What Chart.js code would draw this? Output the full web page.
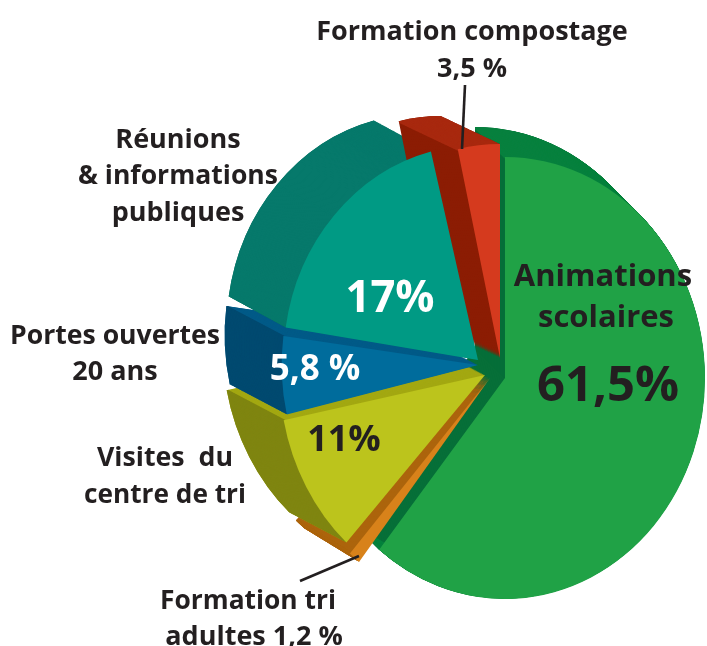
<!DOCTYPE html>
<html><head><meta charset="utf-8">
<style>html,body{margin:0;padding:0;background:#fff}canvas{display:block}</style>
<script src="https://cdn.jsdelivr.net/npm/chart.js@4"></script>
</head><body><canvas id="c" width="707" height="646"></canvas>
<script>
const categories = ["Animations scolaires","Formation tri adultes","Visites du centre de tri","Portes ouvertes 20 ans","Réunions & informations publiques","Formation compostage"];
const shares = [61.5, 1.2, 11, 5.8, 17, 3.5];

const faceColors = ["#20a246","#d8821a","#bcc41c","#006c9c","#009a84","#d53a1e"];
const sideColors = ["#066f38","#ac640c","#a3a812","#005b88","#00715f","#8c1d04"];
const rimColors  = ["#08803f","#ac640c","#7f8510","#004a70","#06796b","#a8290f"];
// hand placement of the exploded slices (screen px / degrees)
const startTweak = [0,-3.2,-3.3,-8.5,-7.5,0];
const endTweak   = [-2.4,-4.3,-6.8,-8.5,-1.4,0];
const apexDX  = [0,-15,-20,-27,-27,-5];
const apexDY  = [0,0,-3,-13,-18,-20];
const radii   = [221,234,227,217,215,214];
const depthX  = [-30,-54,-57,-57,-57,-59];
const depthY  = [-30,-33,-30,-30,-31,-28];
const wallOrder = [0,1,2,3,4,5];
const squeeze = 0.905;
const ink = "#231f20";

const labels = [
 ["Formation compostage",472,40,27,312,ink],["3,5 %",472,77,27,76,ink],
 ["Réunions",178,148,27,126,ink],["& informations",178,184,27,200,ink],["publiques",178,221,27,135,ink],
 ["Portes ouvertes",115,344,27,210,ink],["20 ans",115,380,27,86,ink],
 ["Visites  du",165,466,27,136,ink],["centre de tri",165,503,27,162,ink],
 ["Formation tri",248,609,27,176,ink],["adultes 1,2 %",254,645,27,181,ink],
 ["Animations",603,286,31,180,ink],["scolaires",606,327,31,136,ink],["61,5%",608,401,49,142,ink],
 ["17%",390,312,44,89,"#ffffff"],["5,8 %",315,380,35,91,"#ffffff"],["11%",344,451,36,74,ink]
];
const leaders = [[465,85,462,149],[300,581,359,556]];

function withColor(el,color,fn){
  const o=el.options;
  el.options={backgroundColor:color,borderColor:color,borderWidth:0,borderAlign:o.borderAlign,borderJoinStyle:o.borderJoinStyle,offset:0,spacing:0,circular:true,borderDash:[],borderDashOffset:0,angle:0};
  fn(); el.options=o;
}
const piePlugin={
  id:"pie3d",
  afterDatasetUpdate(chart){
    const arcs=chart.getDatasetMeta(0).data, d=Math.PI/180;
    arcs.forEach((el,i)=>{
      el.startAngle+=startTweak[i]*d; el.endAngle+=endTweak[i]*d;
      el.circumference=el.endAngle-el.startAngle;
      el.x+=apexDX[i]/squeeze; el.y+=apexDY[i];
      el.outerRadius=radii[i];
    });
  },
  beforeDatasetDraw(chart){
    const ctx=chart.ctx, arcs=chart.getDatasetMeta(0).data;
    const cx=chart.chartArea.left+chart.chartArea.width/2;
    ctx.save();
    ctx.translate(cx,0); ctx.scale(squeeze,1); ctx.translate(-cx,0);
    const steps=80;
    wallOrder.forEach(i=>{
      const el=arcs[i], inner=el.innerRadius;
      const sweep=(color)=>{
        withColor(el,color,()=>{
          for(let k=steps;k>=1;k--){
            ctx.save();
            ctx.translate(depthX[i]/squeeze*k/steps,depthY[i]*k/steps);
            el.draw(ctx);
            ctx.restore();
          }
        });
      };
      sweep(sideColors[i]);
      el.innerRadius=el.outerRadius-2;
      sweep(rimColors[i]);
      el.innerRadius=inner;
    });
  },
  afterDatasetDraw(chart){ chart.ctx.restore(); },
  afterDraw(chart){
    const ctx=chart.ctx;
    ctx.save();
    ctx.strokeStyle=ink; ctx.lineWidth=2.6;
    leaders.forEach(l=>{ctx.beginPath();ctx.moveTo(l[0],l[1]);ctx.lineTo(l[2],l[3]);ctx.stroke();});
    ctx.textAlign="center"; ctx.textBaseline="alphabetic";
    labels.forEach(l=>{
      ctx.font="700 "+l[3]+"px 'Open Sans'";
      ctx.fillStyle=l[5];
      ctx.fillText(l[0],l[1],l[2],l[4]);
    });
    ctx.restore();
  }
};
new Chart(document.getElementById("c"),{
  type:"pie",
  data:{labels:categories,datasets:[{data:shares,backgroundColor:faceColors,borderWidth:0,hoverOffset:0}]},
  options:{
    responsive:false,animation:false,radius:221,
    layout:{padding:{left:303,top:110,right:0,bottom:0}},
    plugins:{legend:{display:false},tooltip:{enabled:false},title:{display:false}}
  },
  plugins:[piePlugin]
});
</script></body></html>
